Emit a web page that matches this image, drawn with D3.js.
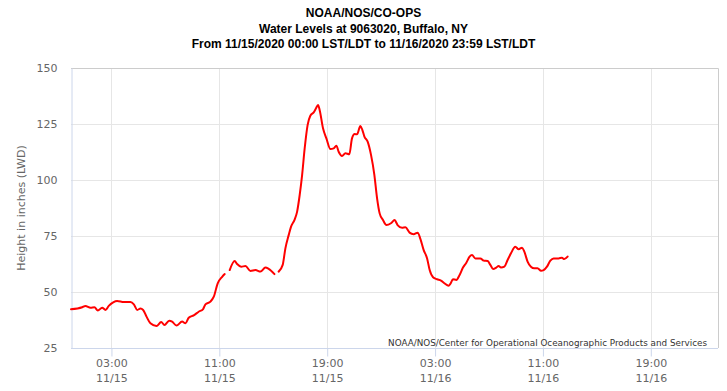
<!DOCTYPE html>
<html>
<head>
<meta charset="utf-8">
<script src="https://cdn.jsdelivr.net/npm/d3@7"></script>
<style>
  html, body { margin: 0; padding: 0; background: #fff; }
  svg { display: block; }
</style>
</head>
<body>
<svg id="chart" width="727" height="391"></svg>
<script>
// ---- Data (hours since 11/15/2020 00:00 LST/LDT, water level in inches) ----
const titleLines = [
  "NOAA/NOS/CO-OPS",
  "Water Levels at 9063020, Buffalo, NY",
  "From 11/15/2020 00:00 LST/LDT to 11/16/2020 23:59 LST/LDT"
];
const yTitle = "Height in inches (LWD)";
const creditText = "NOAA/NOS/Center for Operational Oceanographic Products and Services";
const yTicks = [25, 50, 75, 100, 125, 150];
const xTickHours = [3, 11, 19, 27, 35, 43];
const hours = [
  0.00, 0.83, 1.07, 1.45, 1.74, 1.99, 2.31, 2.56, 2.80, 3.13, 3.42, 3.92, 4.41, 4.66, 4.91,
  5.15, 5.35, 5.60, 5.89, 6.34, 6.69, 6.93, 7.28, 7.50, 7.82, 8.24, 8.49, 8.73, 9.10, 9.47,
  9.80, 9.97, 10.34, 10.59, 10.88, 11.21, 11.40, 11.60, 11.77, 12.14, 12.32, 12.62, 12.94, 13.31,
  13.68, 14.05, 14.42, 14.66, 15.09, 15.25, 15.40, 15.70, 15.90, 16.15, 16.32, 16.57, 16.77, 16.96,
  17.14, 17.33, 17.55, 17.75, 18.00, 18.17, 18.32, 18.44, 18.69, 18.94, 19.24, 19.48, 19.68,
  19.85, 20.10, 20.35, 20.64, 20.84, 21.04, 21.21, 21.46, 21.61, 21.76, 22.00, 22.25, 22.50,
  22.70, 22.89, 23.14, 23.39, 23.73, 24.00, 24.22, 24.55, 24.80, 25.11, 25.41, 25.71, 25.91,
  26.15, 26.41, 26.60, 26.85, 27.15, 27.44, 27.69, 28.01, 28.13, 28.33, 28.58, 28.82, 29.07,
  29.32, 29.56, 29.74, 29.99, 30.36, 30.60, 30.90, 31.10, 31.30, 31.54, 31.71, 31.89, 32.14,
  32.38, 32.63, 32.95, 33.20, 33.45, 33.62, 33.86, 34.11, 34.36, 34.60, 34.86, 35.05, 35.30,
  35.55, 35.79, 36.16, 36.41, 36.58, 36.83
];
const waterLevel = [
  42.3, 43.2, 43.8, 43.0, 43.2, 41.7, 43.0, 42.0, 43.8, 45.4, 46.0, 45.5, 45.5, 44.5, 42.0,
  42.6, 42.0, 39.0, 36.0, 34.8, 36.6, 35.3, 37.2, 36.8, 35.0, 36.8, 36.0, 38.5, 39.6, 41.2,
  42.4, 44.5, 45.7, 47.9, 53.9, 56.8, 58.0, null, 59.8, 63.8, 62.5, 61.3, 61.6, 59.4,
  59.8, 59.1, 60.9, 60.3, 58.0, null, 59.1, 62.1, 69.5, 75.5, 79.2, 82.1, 85.9, 93.3,
  102.2, 114.1, 124.6, 128.7, 130.2, 132.0, 133.5, 131.3, 123.1, 118.6, 113.8, 114.1, 115.3,
  112.6, 110.7, 111.9, 111.5, 118.6, 120.5, 120.4, 124.1, 122.3, 119.4, 117.1, 111.2, 102.2,
  91.8, 85.1, 82.1, 79.9, 80.7, 82.1, 79.9, 78.7, 78.9, 76.5, 75.8, 76.5, 73.7,
  68.8, 65.0, 59.8, 56.6, 55.7, 55.1, 53.9, 52.8, 53.6, 55.7, 55.4, 57.6, 60.9,
  63.1, 65.8, 66.5, 65.0, 65.0, 64.0, 63.8, 62.1, 60.3, 60.9, 61.6, 60.9, 61.3,
  64.3, 67.3, 70.2, 69.1, 69.8, 68.0, 63.6, 61.3, 60.6, 60.6, 59.5, 59.8, 61.3,
  64.0, 65.0, 65.0, 65.3, 64.7, 65.8
];

// ---- Layout ----
const W = 727, H = 391;
const plot = { left: 71, right: 718, top: 68, bottom: 348 };
const start = new Date(2020, 10, 15, 0, 0);
const end = new Date(2020, 10, 16, 23, 59);
const toDate = h => new Date(start.getTime() + h * 3600e3);

const svg = d3.select("#chart");
const x = d3.scaleTime().domain([start, end]).range([plot.left, plot.right]);
const y = d3.scaleLinear().domain([25, 150]).range([plot.bottom, plot.top]);

const labelFont = "'DejaVu Sans', Verdana, sans-serif";

// Gridlines
svg.append("g").selectAll("line.h").data(yTicks.filter(v => v !== 25)).join("line")
  .attr("x1", plot.left).attr("x2", plot.right)
  .attr("y1", d => Math.round(y(d)) + 0.5).attr("y2", d => Math.round(y(d)) + 0.5)
  .attr("stroke", "#e6e6e6").attr("stroke-width", 1);
svg.append("g").selectAll("line.v").data(xTickHours).join("line")
  .attr("x1", d => Math.round(x(toDate(d))) + 0.5).attr("x2", d => Math.round(x(toDate(d))) + 0.5)
  .attr("y1", plot.top).attr("y2", plot.bottom)
  .attr("stroke", "#e6e6e6").attr("stroke-width", 1);

// Plot border (top/right)
svg.append("path")
  .attr("d", `M${plot.left},${plot.top + 0.5}H${plot.right + 0.5}V${plot.bottom}`)
  .attr("fill", "none").attr("stroke", "#cccccc").attr("stroke-width", 1);

// X axis
const xAxis = d3.axisBottom(x)
  .tickValues(xTickHours.map(toDate))
  .tickSize(8)
  .tickFormat("");
const gx = svg.append("g").attr("transform", `translate(0,${plot.bottom + 0.5})`).call(xAxis);
gx.select(".domain").attr("stroke", "#ccd6eb").attr("d", `M${plot.left},0H${plot.right}`);
gx.selectAll(".tick line").attr("stroke", "#ccd6eb");
const fmtT = d3.timeFormat("%H:%M"), fmtD = d3.timeFormat("%m/%d");
gx.selectAll(".tick").each(function(d) {
  const t = d3.select(this).append("text")
    .attr("fill", "#666666").attr("font-family", labelFont).attr("font-size", 11)
    .attr("text-anchor", "middle");
  t.append("tspan").attr("x", 0).attr("y", 18).text(fmtT(d));
  t.append("tspan").attr("x", 0).attr("y", 33).text(fmtD(d));
});

// Y axis
const yAxis = d3.axisLeft(y).tickValues(yTicks).tickSize(0).tickPadding(14);
const gy = svg.append("g").attr("transform", `translate(${plot.left + 0.5},0)`).call(yAxis);
gy.select(".domain").attr("stroke", "#ccd6eb");
gy.selectAll(".tick text")
  .attr("fill", "#666666").attr("font-family", labelFont).attr("font-size", 11)
  .attr("dy", "0.35em");

// Y title
svg.append("text")
  .attr("transform", `translate(25,${(plot.top + plot.bottom) / 2}) rotate(-90)`)
  .attr("text-anchor", "middle")
  .attr("fill", "#666666").attr("font-family", labelFont).attr("font-size", 11)
  .text(yTitle);

// Line
const data = hours.map((h, i) => ({ t: toDate(h), v: waterLevel[i] }));
const line = d3.line()
  .defined(d => d.v !== null)
  .x(d => x(d.t)).y(d => y(d.v))
  .curve(d3.curveMonotoneX);
svg.append("path").datum(data)
  .attr("d", line)
  .attr("fill", "none").attr("stroke", "#ff0000").attr("stroke-width", 2)
  .attr("stroke-linejoin", "round").attr("stroke-linecap", "round");

// Title
const title = svg.append("text")
  .attr("text-anchor", "middle")
  .attr("font-family", "'Liberation Sans', Arial, Helvetica, sans-serif")
  .attr("font-weight", "bold").attr("font-size", 12).attr("fill", "#000");
titleLines.forEach((s, i) => {
  title.append("tspan").attr("x", W / 2).attr("y", 17 + i * 15.5).text(s);
});

// Credits
svg.append("text")
  .attr("x", 707).attr("y", 346)
  .attr("text-anchor", "end")
  .attr("font-family", labelFont).attr("font-size", 8.8).attr("fill", "#333333")
  .text(creditText);
</script>
</body>
</html>
